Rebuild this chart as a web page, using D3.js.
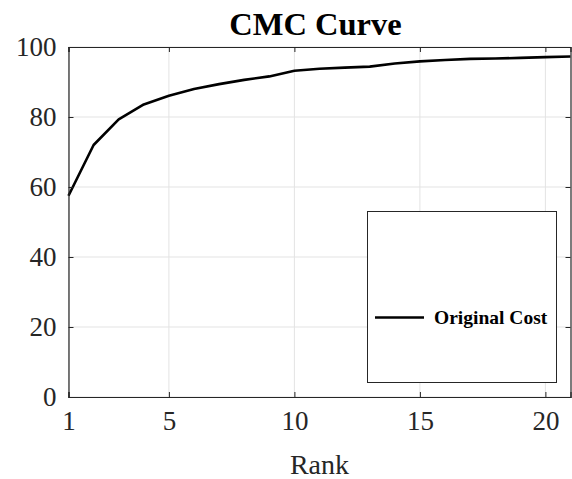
<!DOCTYPE html>
<html><head><meta charset="utf-8">
<script src="https://cdn.jsdelivr.net/npm/d3@7"></script>
<style>html,body{margin:0;padding:0;background:#fff;}svg{display:block;}</style>
</head><body>
<script>
const ranks = [1,2,3,4,5,6,7,8,9,10,11,12,13,14,15,16,17,18,19,20,21];
const originalCost = [57.5,72.0,79.3,83.6,86.1,88.0,89.4,90.6,91.6,93.2,93.8,94.1,94.4,95.3,95.9,96.3,96.6,96.7,96.9,97.1,97.3];
const xTicks = [1,5,10,15,20];
const yTicks = [0,20,40,60,80,100];
const titleText = "CMC Curve";
const xLabel = "Rank";
const seriesName = "Original Cost";

const W = 572, H = 479;
const m = {left:68.5, right:1.5, top:47, bottom:82};
const svg = d3.select("body").append("svg").attr("width",W).attr("height",H);
const x = d3.scaleLinear().domain([1,21]).range([m.left, W-m.right]);
const y = d3.scaleLinear().domain([0,100]).range([H-m.bottom, m.top]);
const font = "'Liberation Serif','Times New Roman',serif";
const axisCol = "#262626";

// grid
const g = svg.append("g");
g.selectAll(".gx").data(xTicks).join("line")
  .attr("x1",d=>x(d)).attr("x2",d=>x(d)).attr("y1",y(0)).attr("y2",y(100))
  .attr("stroke","#e3e3e3").attr("stroke-width",1);
g.selectAll(".gy").data(yTicks).join("line")
  .attr("x1",x(1)).attr("x2",x(21)).attr("y1",d=>y(d)).attr("y2",d=>y(d))
  .attr("stroke","#e3e3e3").attr("stroke-width",1);

// line
const line = d3.line().x((d,i)=>x(ranks[i])).y(d=>y(d));
svg.append("path").datum(originalCost).attr("d",line)
  .attr("fill","none").attr("stroke","#000").attr("stroke-width",2.6).attr("stroke-linejoin","round");

// axes (box)
const ax = svg.append("g");
ax.append("g").attr("transform",`translate(0,${y(0)})`)
  .call(d3.axisBottom(x).tickValues(xTicks).tickSize(-5).tickPadding(14).tickFormat(d3.format("d")));
ax.append("g").attr("transform",`translate(0,${y(100)})`)
  .call(d3.axisTop(x).tickValues(xTicks).tickSize(-5).tickFormat(""));
ax.append("g").attr("transform",`translate(${x(1)},0)`)
  .call(d3.axisLeft(y).tickValues(yTicks).tickSize(-5).tickPadding(12).tickFormat(d3.format("d")));
ax.append("g").attr("transform",`translate(${x(21)},0)`)
  .call(d3.axisRight(y).tickValues(yTicks).tickSize(-5).tickFormat(""));
ax.selectAll(".domain").attr("stroke",axisCol).attr("stroke-width",1.2);
ax.selectAll(".tick line").attr("stroke",axisCol);
ax.selectAll(".tick text").attr("fill","#262626").attr("font-family",font).attr("font-size",27);

// title
svg.append("text").attr("x",(x(1)+x(21))/2 - 4).attr("y",35).attr("text-anchor","middle")
  .attr("font-family",font).attr("font-weight","bold").attr("font-size",32.5).attr("fill","#000").text(titleText);
// x label
svg.append("text").attr("x",(x(1)+x(21))/2).attr("y",474).attr("text-anchor","middle")
  .attr("font-family",font).attr("font-size",28).attr("fill","#262626").text(xLabel);

// legend
const lg = svg.append("g");
lg.append("rect").attr("x",367.5).attr("y",211.5).attr("width",189).attr("height",171)
  .attr("fill","#fff").attr("stroke",axisCol).attr("stroke-width",1);
lg.append("line").attr("x1",375).attr("x2",424).attr("y1",317.5).attr("y2",317.5)
  .attr("stroke","#000").attr("stroke-width",2.6);
lg.append("text").attr("x",434).attr("y",324).attr("font-family",font).attr("font-weight","bold")
  .attr("font-size",19.5).attr("fill","#000").text(seriesName);
</script>
</body></html>
